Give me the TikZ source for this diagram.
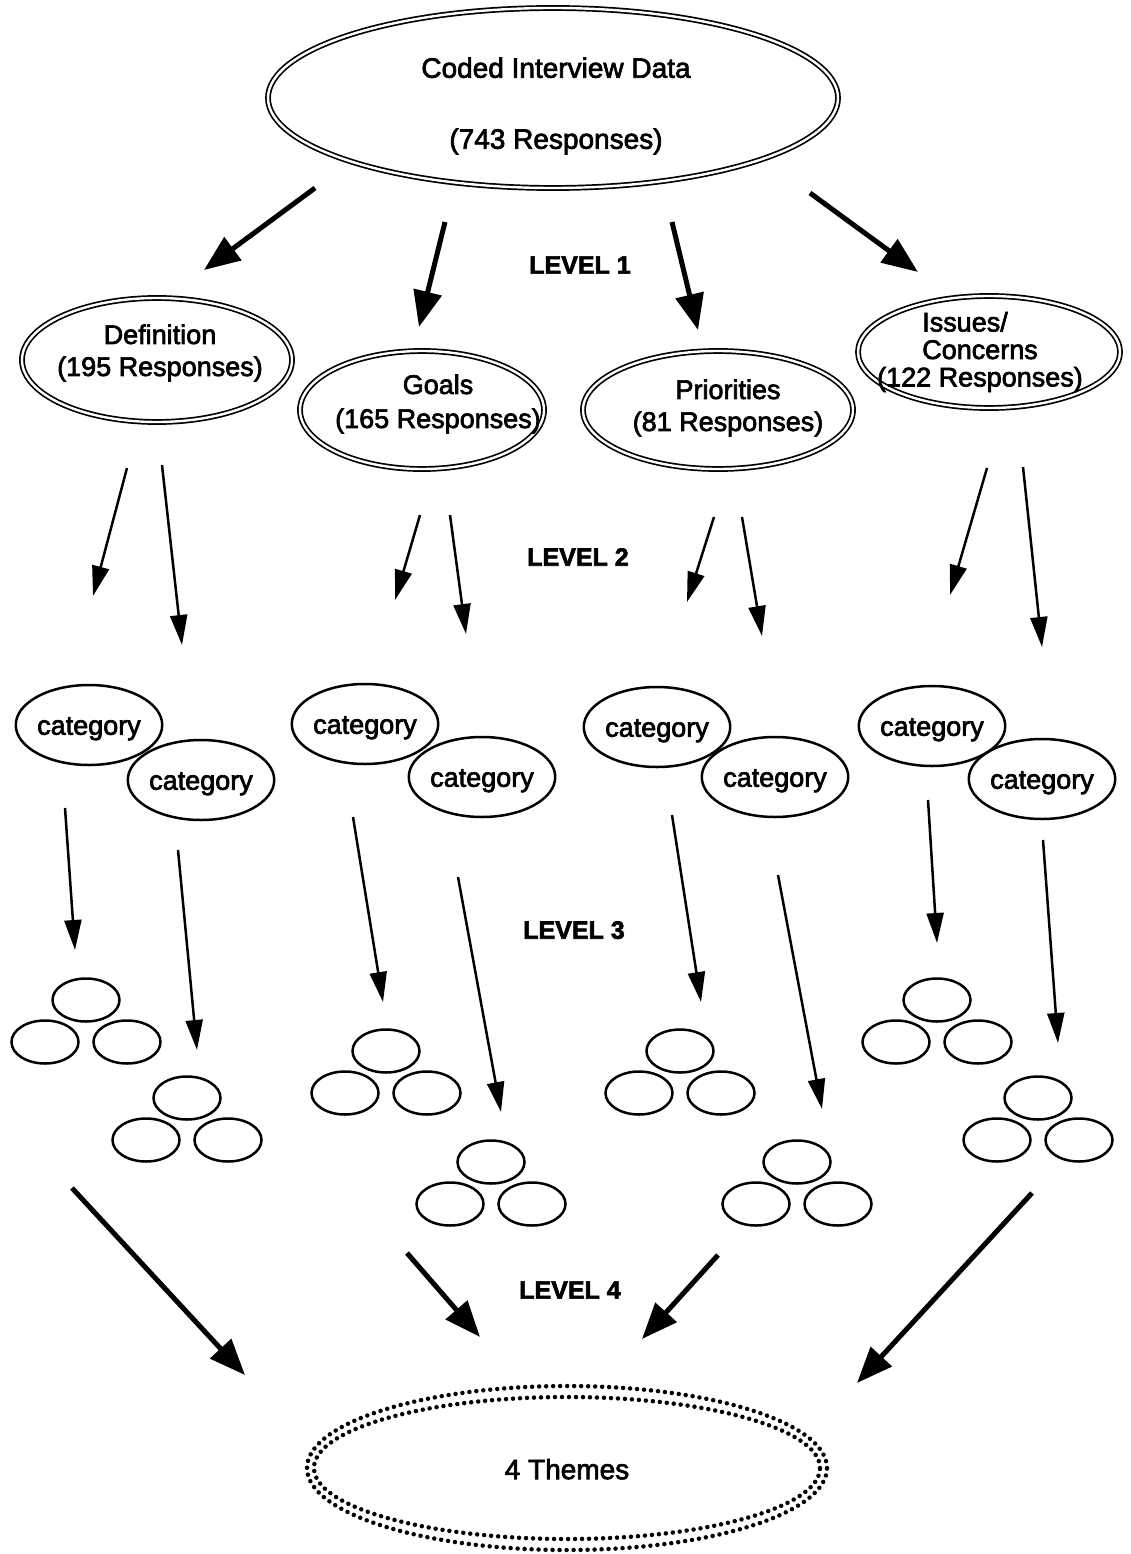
\documentclass[tikz,border=0pt]{standalone}
\usepackage{fontspec}
\setmainfont{Liberation Sans}[FakeBold=2.5]
\usetikzlibrary{shapes.geometric,arrows.meta,calc}

% three small response ellipses: #1 name, (#2,#3) centre of the upper one
\newcommand\restriad[3]{%
  \node[resp] (#1-a) at (#2,#3) {};
  \node[resp] (#1-b) at ($(#1-a)+(-41,42)$) {};
  \node[resp] (#1-c) at ($(#1-a)+(41,42)$) {};
}

\begin{document}
\begin{tikzpicture}[x=1pt,y=-1pt,
  every node/.style={font=\fontsize{27}{32}\selectfont},
  dbl/.style={ellipse, draw, double, double distance=2.4pt, line width=1.7pt, inner sep=0pt},
  cat/.style={ellipse, draw, line width=2.5pt, minimum width=131pt, minimum height=80pt, inner sep=0pt},
  resp/.style={ellipse, draw, line width=2.5pt, minimum width=67pt, minimum height=43pt, inner sep=0pt},
  txt/.style={align=center, inner sep=0pt},
  lvl/.style={inner sep=0pt, font=\bfseries\fontsize{25}{30}\selectfont},
  bigarrow/.style={line width=5pt, -{Triangle[length=36pt,width=28pt]}},
  smallarrow/.style={line width=2.5pt, -{Triangle[length=30pt,width=17pt]}},
  dots/.style={line width=4.5pt, line cap=round, dash pattern=on 0pt off 7pt}
]
\useasboundingbox (0,0) rectangle (1131,1554);

% ---------- source ----------
\node[dbl, minimum width=570pt, minimum height=180pt] (top) at (553,98) {};
\node[txt, font=\fontsize{28}{32}\selectfont] (top-t) at (556,106) {Coded Interview Data\\[39pt](743 Responses)};

% ---------- level 1 ----------
\node[dbl, minimum width=270pt, minimum height=124pt] (def) at (157,360) {};
\node[dbl, minimum width=244pt, minimum height=118pt] (goals) at (422,410) {};
\node[dbl, minimum width=270pt, minimum height=118pt] (pri) at (718,410) {};
\node[dbl, minimum width=262pt, minimum height=112pt] (iss) at (989,352) {};

\node[txt] (def-t) at (160,353) {Definition\\(195 Responses)};
\node[txt, font=\fontsize{27}{34}\selectfont] (goals-t) at (438,404) {Goals\\(165 Responses)};
\node[txt] (pri-t) at (728,408) {Priorities\\(81 Responses)};
\node[txt, font=\fontsize{27}{27.5}\selectfont] (iss-t) at (980,352) {Issues/\hspace*{30pt}\\Concerns\hspace*{-12pt}\\(122 Responses)};

\node[lvl] (l1) at (580,265) {LEVEL 1};
\draw[bigarrow] ($(top)+(-238,90)$) -- ($(def)+(47,-90)$);
\draw[bigarrow] ($(top)+(-108,124)$) -- ($(goals)+(-3,-83)$);
\draw[bigarrow] ($(top)+(119,124)$) -- ($(pri)+(-20,-80)$);
\draw[bigarrow] ($(top)+(257,95)$) -- ($(iss)+(-71,-80)$);

% ---------- level 2 ----------
\tikzset{every node/.append style={text depth=0pt}}
\node[cat] (d1) at (89,725) {\raisebox{-2pt}{category}};
\node[cat] (d2) at (201,780) {\raisebox{-2pt}{category}};
\node[cat] (g1) at (365,724) {\raisebox{-2pt}{category}};
\node[cat] (g2) at (482,777) {\raisebox{-2pt}{category}};
\node[cat] (p1) at (657,727) {\raisebox{-2pt}{category}};
\node[cat] (p2) at (775,777) {\raisebox{-2pt}{category}};
\node[cat] (i1) at (932,726) {\raisebox{-2pt}{category}};
\node[cat] (i2) at (1042,779) {\raisebox{-2pt}{category}};

\node[lvl] (l2) at (578,557) {LEVEL 2};
\draw[smallarrow] ($(def)+(-30,108)$) -- ($(d1)+(4,-129)$);
\draw[smallarrow] ($(def)+(5,105)$) -- ($(d2)+(-19,-135)$);
\draw[smallarrow] ($(goals)+(-2,105)$) -- ($(g1)+(30,-124)$);
\draw[smallarrow] ($(goals)+(28,105)$) -- ($(g2)+(-16,-143)$);
\draw[smallarrow] ($(pri)+(-4,107)$) -- ($(p1)+(30,-125)$);
\draw[smallarrow] ($(pri)+(24,107)$) -- ($(p2)+(-13,-141)$);
\draw[smallarrow] ($(iss)+(-2,116)$) -- ($(i1)+(18,-131)$);
\draw[smallarrow] ($(iss)+(34,115)$) -- ($(i2)+(0,-132)$);

% ---------- level 3 ----------
\restriad{rd1}{86}{1000}
\restriad{rd2}{187}{1098}
\restriad{rg1}{386}{1051}
\restriad{rg2}{491}{1162}
\restriad{rp1}{680}{1051}
\restriad{rp2}{797}{1162}
\restriad{ri1}{937}{1000}
\restriad{ri2}{1038}{1098}

\node[lvl] (l3) at (574,930) {LEVEL 3};
\draw[smallarrow] ($(d1)+(-24,83)$) -- ($(rd1-a)+(-11,-50)$);
\draw[smallarrow] ($(d2)+(-23,70)$) -- ($(rd2-a)+(10,-48)$);
\draw[smallarrow] ($(g1)+(-12,93)$) -- ($(rg1-a)+(-3,-49)$);
\draw[smallarrow] ($(g2)+(-24,100)$) -- ($(rg2-a)+(10,-50)$);
\draw[smallarrow] ($(p1)+(15,88)$) -- ($(rp1-a)+(21,-49)$);
\draw[smallarrow] ($(p2)+(3,98)$) -- ($(rp2-a)+(25,-53)$);
\draw[smallarrow] ($(i1)+(-4,74)$) -- ($(ri1-a)+(0,-57)$);
\draw[smallarrow] ($(i2)+(1,61)$) -- ($(ri2-a)+(20,-55)$);

% ---------- level 4 ----------
\node[ellipse, draw, dots, minimum width=520pt, minimum height=164pt, inner sep=0pt,
      font=\fontsize{28}{32}\selectfont] (themes) at (567,1468) {\raisebox{-2pt}{4 Themes}};
\draw[dots] (themes.center) ellipse [x radius=253pt, y radius=71pt];

\node[lvl] (l4) at (570,1290) {LEVEL 4};
\draw[bigarrow] ($(rd2-a)+(-115,90)$) -- ($(themes)+(-322,-93)$);
\draw[bigarrow] ($(rg2-a)+(-84,91)$) -- ($(themes)+(-87,-131)$);
\draw[bigarrow] ($(rp2-a)+(-79,93)$) -- ($(themes)+(75,-129)$);
\draw[bigarrow] ($(ri2-a)+(-6,95)$) -- ($(themes)+(290,-85)$);
\end{tikzpicture}
\end{document}
